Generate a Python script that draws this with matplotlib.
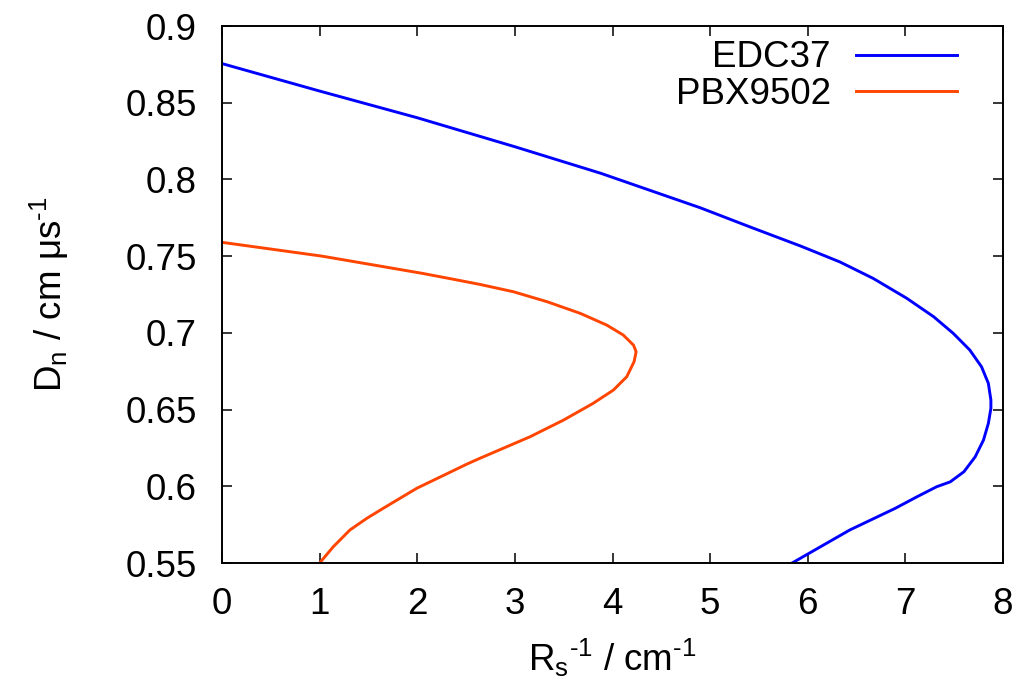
import matplotlib
matplotlib.use("Agg")
import matplotlib.pyplot as plt

plt.rcParams['font.family'] = ['Liberation Sans', 'DejaVu Sans']
plt.rcParams['mathtext.fontset'] = 'custom'
plt.rcParams['mathtext.rm'] = 'Liberation Sans'
plt.rcParams['mathtext.it'] = 'Liberation Sans'
plt.rcParams['mathtext.default'] = 'regular'

# curves: Rs^-1 (cm^-1) vs Dn (cm/us)
edc37_x = [0.0, 1.0, 2.0, 3.0, 3.88, 4.9, 5.41, 5.93, 6.33, 6.67, 7.015, 7.29,
           7.49, 7.66, 7.78, 7.85, 7.876, 7.876, 7.85, 7.80, 7.715, 7.60, 7.46,
           7.32, 7.12, 6.895, 6.43, 5.84]
edc37_y = [0.8755, 0.8576, 0.8402, 0.8213, 0.804, 0.7815, 0.769, 0.7565, 0.7462,
           0.7355, 0.7225, 0.7105, 0.6997, 0.6888, 0.6779, 0.6671, 0.6562, 0.6508,
           0.641, 0.6301, 0.6192, 0.6095, 0.6029, 0.5997, 0.5932, 0.5856, 0.5715,
           0.550]

pbx_x = [0.0, 1.025, 2.05, 2.34, 2.64, 2.985, 3.33, 3.67, 3.94, 4.11, 4.215,
         4.242, 4.221, 4.146, 4.009, 3.80, 3.50, 3.156, 2.64, 2.51, 1.995, 1.65,
         1.483, 1.31, 1.14, 1.0]
pbx_y = [0.759, 0.750, 0.7388, 0.7353, 0.7316, 0.7268, 0.7203, 0.7127, 0.7051,
         0.6986, 0.692, 0.6877, 0.6812, 0.6714, 0.6627, 0.654, 0.6432, 0.6323,
         0.6182, 0.6145, 0.5987, 0.5856, 0.5791, 0.5715, 0.5606, 0.550]

x_ticks = [0, 1, 2, 3, 4, 5, 6, 7, 8]
y_ticks = [0.55, 0.6, 0.65, 0.7, 0.75, 0.8, 0.85, 0.9]
y_labels = ['0.55', '0.6', '0.65', '0.7', '0.75', '0.8', '0.85', '0.9']

fs = 26.5

fig = plt.figure(figsize=(10.24, 6.87), dpi=100)
ax = fig.add_axes([222/1024, 1-563/687, (1003-222)/1024, (563-26)/687])

ax.plot(edc37_x, edc37_y, color='#0000ff', lw=2.1, label='EDC37')
ax.plot(pbx_x, pbx_y, color='#ff4500', lw=2.1, label='PBX9502')

ax.set_xlim(0, 8)
ax.set_ylim(0.55, 0.9)
ax.set_xticks(x_ticks)
ax.set_xticklabels([str(t) for t in x_ticks])
ax.set_yticks(y_ticks)
ax.set_yticklabels(y_labels)
ax.tick_params(direction='in', length=7, width=1.1, top=True, right=True,
               labelsize=fs)
ax.tick_params(axis='y', pad=18)
ax.tick_params(axis='x', pad=17)
for s in ax.spines.values():
    s.set_linewidth(1.4)

ax.set_xlabel(r'R$_s$$^{\text{-}1}$ / cm$^{\text{-}1}$', fontsize=fs, labelpad=11)
ax.set_ylabel('D$_n$ / cm \u03bcs$^{\\text{-}1}$', fontsize=fs, labelpad=39)

leg = ax.legend(loc='upper right', frameon=False, fontsize=fs, markerfirst=False,
                handlelength=2.75, handletextpad=0.68, labelspacing=0.05,
                borderpad=0, borderaxespad=0, bbox_to_anchor=(0.941, 0.973))
for t in leg.get_texts():
    t.set_ha('right')

fig.savefig('out.png', dpi=100)
